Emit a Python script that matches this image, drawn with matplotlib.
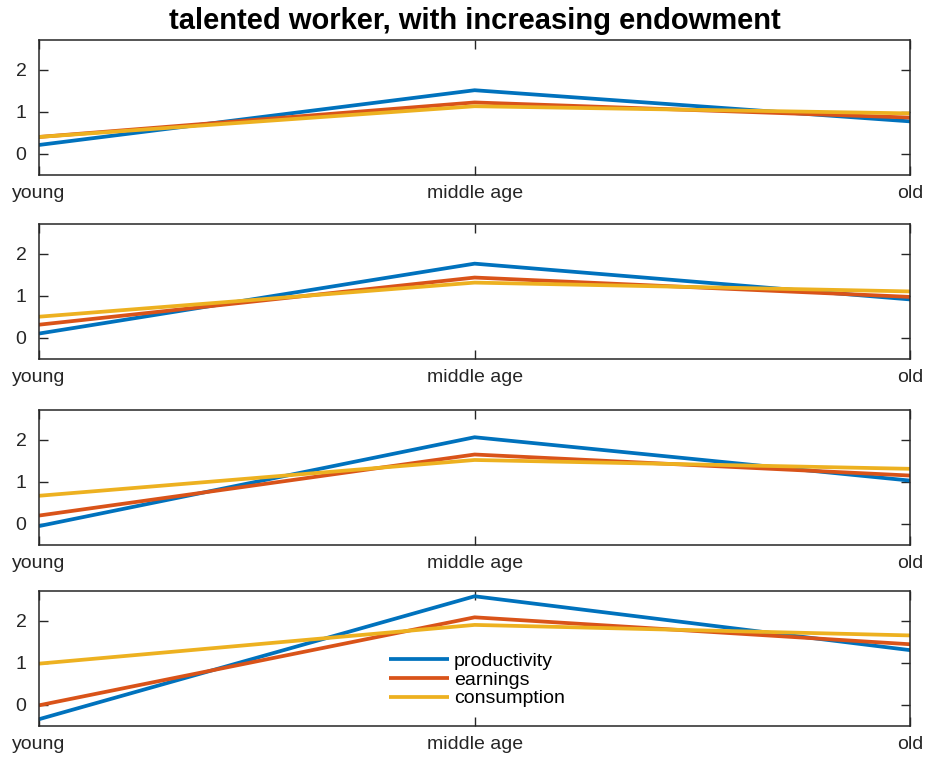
import numpy as np
import matplotlib
matplotlib.use('Agg')
import matplotlib.pyplot as plt

plt.rcParams['font.family'] = ['Liberation Sans', 'DejaVu Sans']

# life stages on the x axis
stages = ['young', 'middle age', 'old']

# one row per panel (increasing endowment), values at young / middle age / old
productivity = [
    [0.21, 1.51, 0.77],
    [0.10, 1.76, 0.91],
    [-0.05, 2.06, 1.03],
    [-0.34, 2.58, 1.30],
]
earnings = [
    [0.40, 1.22, 0.86],
    [0.31, 1.43, 0.97],
    [0.20, 1.65, 1.15],
    [-0.01, 2.08, 1.44],
]
consumption = [
    [0.40, 1.13, 0.96],
    [0.50, 1.31, 1.10],
    [0.67, 1.52, 1.31],
    [0.98, 1.90, 1.65],
]

series_names = ['productivity', 'earnings', 'consumption']
colors = ['#0072BD', '#D95319', '#EDB120']
dark = '#262626'

fig = plt.figure(figsize=(9.27, 7.57), dpi=100)

# panel layout (figure fractions)
left, width, height = 0.042, 0.940, 0.178
bottoms = [0.769, 0.526, 0.280, 0.041]

x = np.arange(1, len(stages) + 1)
for k, b in enumerate(bottoms):
    ax = fig.add_axes([left, b, width, height])
    for vals, c, name in zip([productivity[k], earnings[k], consumption[k]], colors, series_names):
        ax.plot(x, vals, color=c, lw=2.7, label=name, solid_capstyle='butt')
    ax.set_xlim(1, 3)
    ax.set_ylim(-0.5, 2.7)
    ax.set_xticks(x)
    ax.set_xticklabels(stages)
    ax.set_yticks([0, 1, 2])
    ax.tick_params(direction='in', length=6.5, width=1.0, colors=dark,
                   labelsize=14, top=True, right=True)
    ax.tick_params(axis='x', pad=7)
    ax.tick_params(axis='y', pad=9)
    for sp in ax.spines.values():
        sp.set_color(dark)
        sp.set_linewidth(1.1)
    if k == 0:
        ax.set_title('talented worker, with increasing endowment',
                     fontsize=21, fontweight='bold', pad=8)
    if k == len(bottoms) - 1:
        ax.legend(loc='upper left', bbox_to_anchor=(0.386, 0.645), frameon=False,
                  fontsize=14, handlelength=3.1, handletextpad=0.25,
                  labelspacing=0.05, borderpad=0.2)

fig.savefig('out.png', dpi=100)
